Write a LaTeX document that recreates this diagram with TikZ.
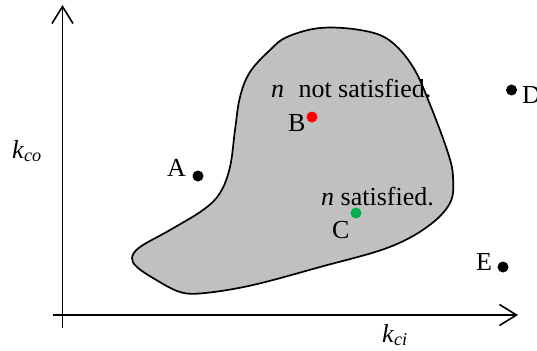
\documentclass[tikz,border=0pt]{standalone}
\usepackage{fontspec}
\setmainfont{Liberation Serif}
\usetikzlibrary{arrows.meta}
\definecolor{blobgray}{HTML}{C0C0C0}
\definecolor{dotgreen}{HTML}{00B050}
\tikzset{
  axis/.style={line width=1.8pt, -{Straight Barb[length=17pt,width=21pt,line width=1.6pt]}},
  dotmark/.style={circle, fill=#1, inner sep=0pt, minimum size=11pt},
  lbl/.style={inner sep=0pt, anchor=base west, font=\fontsize{26}{30}\selectfont},
}
\begin{document}
\begin{tikzpicture}[x=1pt,y=-1pt]
\useasboundingbox (0,0) rectangle (537,350);
% blob
\draw[line width=1.7pt, fill=blobgray] plot[smooth cycle, tension=0.6] coordinates {
 (287,37) (270,50) (250,72) (240,97) (235,130) (230,167) (220,193) (203,210)
 (170,230) (140,247) (132,258) (137,267) (153,278) (180,292) (205,293)
 (253,285) (320,267) (387,248) (427,227) (450,203) (453,177) (448,153)
 (431,107) (413,67) (389,40) (360,30) (320,28)};
% axes
\coordinate (o1) at (62.5,328);
\coordinate (yt) at (62.5,5);
\coordinate (o2) at (53,315);
\coordinate (xt) at (518,315);
\draw[axis] (o1) -- (yt);
\draw[axis] (o2) -- (xt);
\node[lbl] (kco) at (12,158) {\textit{k}\textsubscript{\textit{co}}};
\node[lbl] (kci) at (382,342) {\textit{k}\textsubscript{\textit{ci}}};
% points
\node[dotmark=black] (A) at (198,176) {};
\node[lbl] (Al) at (167,176) {A};
\node[dotmark=red] (B) at (312,117) {};
\node[lbl] (Bl) at (288,131) {B};
\node[dotmark=dotgreen] (C) at (356,213) {};
\node[lbl] (Cl) at (332,238) {C};
\node[dotmark=black] (D) at (511.5,90) {};
\node[lbl] (Dl) at (522,103) {D};
\node[dotmark=black] (E) at (503,267) {};
\node[lbl] (El) at (476,270) {E};
% texts
\node[lbl] (ns) at (271,98) {\textit{n}\hspace{0.55em}not satisfied.};
\node[lbl] (s) at (321,205) {\textit{n} satisfied.};
\end{tikzpicture}
\end{document}
